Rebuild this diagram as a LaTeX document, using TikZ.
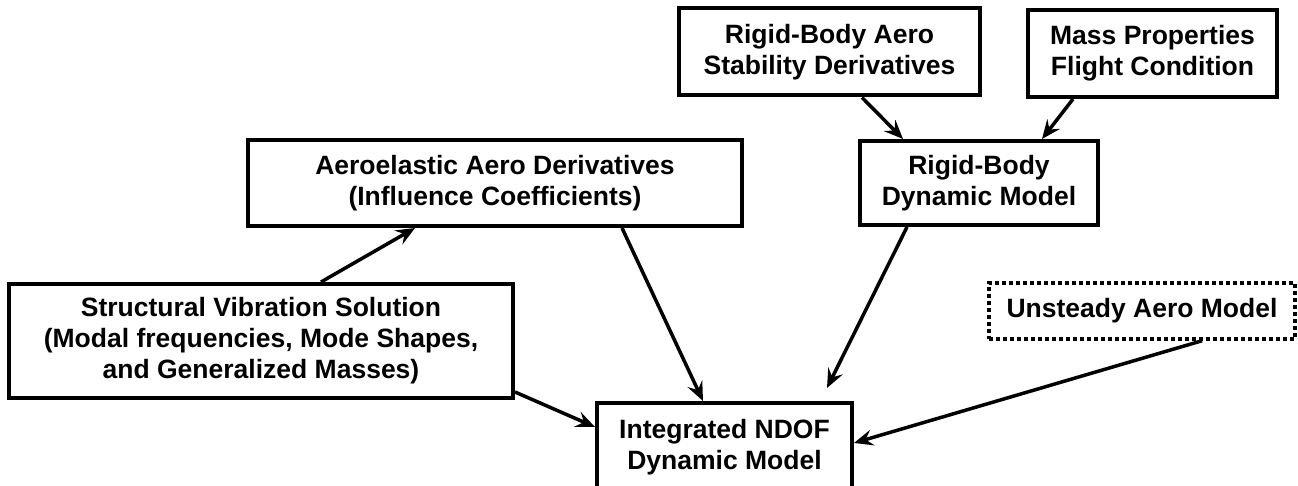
\documentclass[tikz,border=0pt]{standalone}
\usepackage{fontspec}
\setmainfont{Liberation Sans}
\usetikzlibrary{arrows.meta,calc}
\begin{document}
\begin{tikzpicture}[x=1pt,y=-1pt,
  box/.style={draw=black,line width=4pt,fill=white,rectangle,inner sep=0pt,align=center,
    font=\bfseries\fontsize{26.5}{31}\selectfont},
  dotbox/.style={box,line width=3.5pt,dash pattern=on 4pt off 3pt},
  conn/.style={line width=3.5pt,-{Stealth[length=19pt,width=16pt,inset=7pt]}}]
\clip (0,0) rectangle (1298,486);
\fill[white] (0,0) rectangle (1298,486);
\node[box,minimum width=301pt,minimum height=87pt] (A) at (829.5,52) {Rigid-Body Aero\\Stability Derivatives};
\node[box,minimum width=249pt,minimum height=87pt] (M) at (1152.5,53.5) {Mass Properties\\Flight Condition};
\node[box,minimum width=238pt,minimum height=84pt] (RB) at (979,183) {Rigid-Body\\Dynamic Model};
\node[box,minimum width=494pt,minimum height=86pt] (AE) at (495,183) {Aeroelastic Aero Derivatives\\(Influence Coefficients)};
\node[box,minimum width=504pt,minimum height=114pt] (S) at (261,341) {Structural Vibration Solution\\(Modal frequencies, Mode Shapes,\\and Generalized Masses)};
\node[dotbox,minimum width=306pt,minimum height=56pt] (U) at (1142,311) {Unsteady Aero Model};
\node[box,minimum width=255pt,minimum height=89pt] (I) at (724.5,447.5) {Integrated NDOF\\Dynamic Model};
\draw[conn] ([xshift=32.5pt]A.south) -- ([xshift=-76pt]RB.north);
\draw[conn] ([xshift=-79.5pt]M.south) -- ([xshift=63pt]RB.north);
\draw[conn] ([xshift=60pt]S.north) -- ([xshift=-80pt]AE.south);
\draw[conn] ([xshift=127pt]AE.south) -- ([xshift=-21.5pt]I.north);
\draw[conn] ([xshift=-72pt]RB.south) -- ([xshift=102.5pt,yshift=13pt]I.north);
\draw[conn] ([yshift=-51pt]S.east) -- ([yshift=20.5pt]I.west);
\draw[conn] ([xshift=60pt]U.south) -- ([yshift=4.5pt]I.east);
\end{tikzpicture}
\end{document}
